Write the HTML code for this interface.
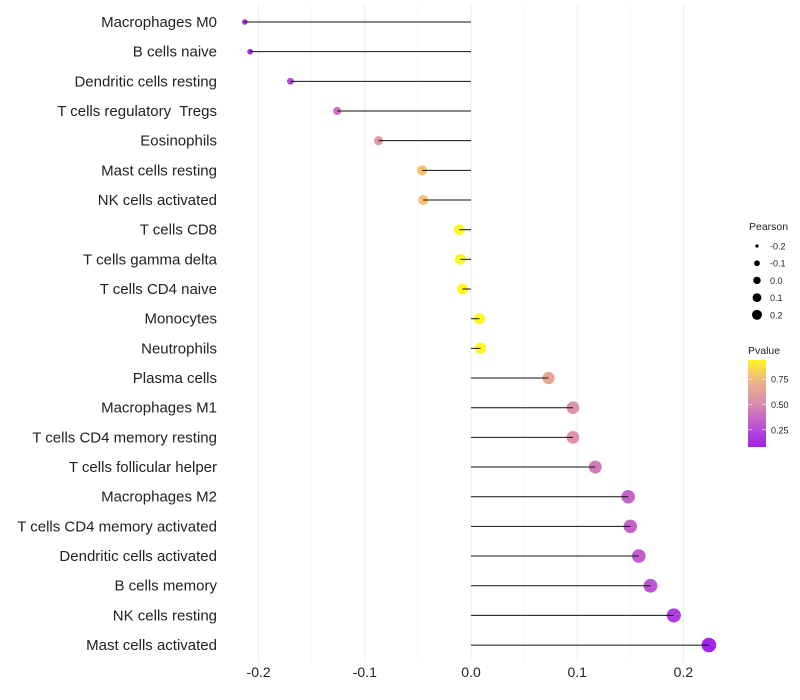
<!DOCTYPE html>
<html><head><meta charset="utf-8"><style>
body{margin:0;background:#fff;}
svg{font-family:"Liberation Sans",sans-serif;display:block}
text{white-space:pre}
</style></head><body>
<svg id="chart" width="800" height="700">
<defs><linearGradient id="pg" x1="0" y1="1" x2="0" y2="0">
<stop offset="0" stop-color="#9f1ff0"/><stop offset="0.49" stop-color="#d78ab2"/><stop offset="0.78" stop-color="#f2b87f"/><stop offset="1" stop-color="#fff51f"/></linearGradient></defs>
<g id="grid"></g><g id="marks"></g><g id="labels"></g><g id="legend"></g>
</svg>
<script>
const categories=["Macrophages M0","B cells naive","Dendritic cells resting","T cells regulatory  Tregs","Eosinophils","Mast cells resting","NK cells activated","T cells CD8","T cells gamma delta","T cells CD4 naive","Monocytes","Neutrophils","Plasma cells","Macrophages M1","T cells CD4 memory resting","T cells follicular helper","Macrophages M2","T cells CD4 memory activated","Dendritic cells activated","B cells memory","NK cells resting","Mast cells activated"];
const pearson=[-0.213,-0.208,-0.170,-0.126,-0.087,-0.046,-0.045,-0.011,-0.010,-0.008,0.008,0.009,0.073,0.096,0.096,0.117,0.148,0.150,0.158,0.169,0.191,0.224];
const pvalue=[0.12,0.14,0.25,0.40,0.58,0.78,0.78,0.95,0.95,0.95,0.95,0.95,0.66,0.55,0.55,0.45,0.35,0.35,0.33,0.29,0.20,0.10];
const xTicks=[-0.2,-0.1,0.0,0.1,0.2];
const xTickLabels=["-0.2","-0.1","0.0","0.1","0.2"];
const sizeLegend=[-0.2,-0.1,0.0,0.1,0.2];
const sizeLegendLabels=["-0.2","-0.1","0.0","0.1","0.2"];
const colorLegend=[0.75,0.50,0.25];
const colorLegendLabels=["0.75","0.50","0.25"];

const NS="http://www.w3.org/2000/svg";
const X=v=>471+v*1062;
const Y=i=>22+i*29.67;
const R=v=>Math.sqrt(Math.max(3,30+105*v));
const RL=v=>Math.sqrt(Math.max(2,13.7+55*v));
const stops=[[0.08,[159,31,240]],[0.50,[215,138,178]],[0.75,[242,184,127]],[0.94,[255,245,31]]];
function col(p){p=Math.max(0.08,Math.min(0.94,p));
 for(let i=0;i<stops.length-1;i++){const [a,ca]=stops[i],[b,cb]=stops[i+1];
  if(p<=b){const t=(p-a)/(b-a);return `rgb(${ca.map((c,k)=>Math.round(c+(cb[k]-c)*t))})`;}}
 return 'rgb(255,245,31)';}
function mk(tag,attrs,parent,text){const e=document.createElementNS(NS,tag);for(const k in attrs)e.setAttribute(k,attrs[k]);if(text!=null)e.textContent=text;parent.appendChild(e);return e;}
const grid=document.getElementById('grid'),marks=document.getElementById('marks'),labels=document.getElementById('labels'),legend=document.getElementById('legend');
for(let k=-5;k<=5;k++){const v=k*0.05;const x=X(v);if(x<225||x>730)continue;
 const g=mk('line',{x1:x,x2:x,y1:5,y2:662,stroke:k%2===0?'#ebebeb':'#f4f4f4','stroke-width':k%2===0?1:0.6},grid);
 }
xTicks.forEach((v,i)=>{const t=mk('text',{x:X(v),y:677,'text-anchor':'middle','font-size':14,fill:'#222'},labels,xTickLabels[i]);
 });
categories.forEach((c,i)=>{const y=Y(i);
 const t=mk('text',{x:217,y:y+5,'text-anchor':'end','font-size':15,fill:'#222'},labels,c);
 
 const d=mk('circle',{cx:X(pearson[i]),cy:y,r:R(pearson[i]),fill:col(pvalue[i])},marks);
 
 const l=mk('line',{x1:X(0),x2:X(pearson[i]),y1:y,y2:y,stroke:'#111','stroke-width':1},marks);
 });
let t=mk('text',{x:749,y:230,'font-size':10.5,fill:'#222'},legend,'Pearson');

sizeLegend.forEach((v,i)=>{const y=246+i*17.2;
 const c=mk('circle',{cx:757,cy:y,r:RL(v),fill:'#000'},legend);
 const s=mk('text',{x:770,y:y+3.5,'font-size':9,fill:'#222'},legend,sizeLegendLabels[i]);});
t=mk('text',{x:748,y:354,'font-size':10.5,fill:'#222'},legend,'Pvalue');

const bar=mk('rect',{x:748,y:360,width:18,height:87,fill:'url(#pg)'},legend);

colorLegend.forEach((v,i)=>{const y=447-(v-0.08)/(0.94-0.08)*87;
 mk('line',{x1:748,x2:752,y1:y,y2:y,stroke:'#fff','stroke-width':0.6},legend);
 mk('line',{x1:762,x2:766,y1:y,y2:y,stroke:'#fff','stroke-width':0.6},legend);
 const s=mk('text',{x:771,y:y+3.5,'font-size':9,fill:'#222'},legend,colorLegendLabels[i]);});
</script>
</body></html>
